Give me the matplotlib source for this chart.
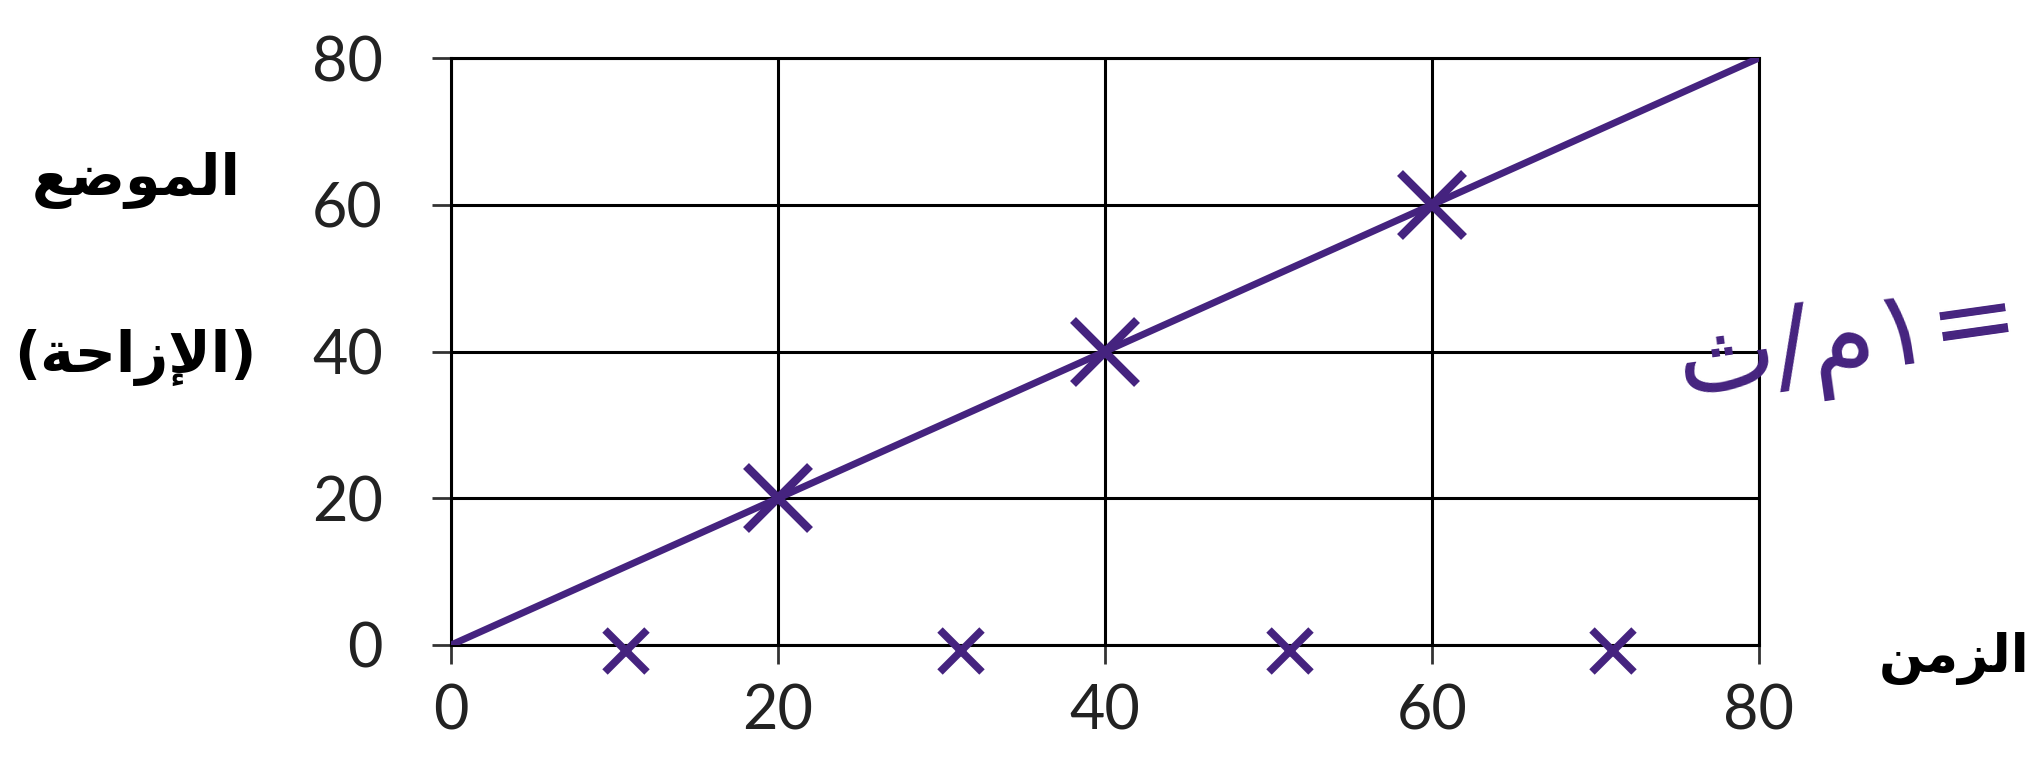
import numpy as np
import matplotlib.pyplot as plt

# position vs time data
line_t = [0, 80]
line_x = [0, 80]
pts_t = [20, 40, 60]
pts_x = [20, 40, 60]
base_t = [10.7, 31.2, 51.3, 71.1]
base_x = [-0.8, -0.8, -0.8, -0.8]

ticks = [0, 20, 40, 60, 80]

# arabic labels, pre-shaped in visual order
lbl_pos = "\uFECA\uFEBF\uFEEE\uFEE4\uFEDF\uFE8D"
lbl_disp = "(\uFE94\uFEA3\uFE8D\uFEAF\uFEF9\uFE8D)"
lbl_time = "\uFEE6\uFEE3\uFEB0\uFEDF\uFE8D"
lbl_speed = "\uFE99/\uFEE1\u0661="

purple = "#45237f"

fig = plt.figure(figsize=(20.33, 7.72), dpi=100)
ax = fig.add_axes([451 / 2033, 127 / 772, 1308 / 2033, 587 / 772])

ax.plot(line_t, line_x, color=purple, lw=5, zorder=3)
ax.plot(pts_t, pts_x, "x", color=purple, ms=46, mew=6, zorder=4)
ax.plot(base_t, base_x, "x", color=purple, ms=30, mew=5.5, zorder=4, clip_on=False)

ax.set_xlim(0, 80)
ax.set_ylim(0, 80)
ax.set_xticks(ticks)
ax.set_yticks(ticks)
ax.grid(True, color="black", lw=2.2)
for s in ax.spines.values():
    s.set_color("black")
    s.set_linewidth(2.2)
ax.tick_params(direction="out", length=14, width=2, color="#333333",
               labelsize=44, labelcolor="#222222")
ax.tick_params(axis="x", pad=14)
ax.tick_params(axis="y", pad=35)
for lab in ax.get_xticklabels() + ax.get_yticklabels():
    lab.set_fontfamily("Lato")

fig.text(136 / 2033, 1 - 195 / 772, lbl_pos, fontsize=41, fontweight="bold",
         family="DejaVu Sans", ha="center", va="baseline")
fig.text(135 / 2033, 1 - 372 / 772, lbl_disp, fontsize=41, fontweight="bold",
         family="DejaVu Sans", ha="center", va="baseline")
fig.text(2030 / 2033, 1 - 672 / 772, lbl_time, fontsize=38, fontweight="bold",
         family="DejaVu Sans", ha="right", va="baseline")
fig.text(1848 / 2033, 1 - 345 / 772, lbl_speed, fontsize=76, color=purple,
         family="DejaVu Sans", ha="center", va="center", rotation=8)

fig.savefig("out.png", dpi=100)
